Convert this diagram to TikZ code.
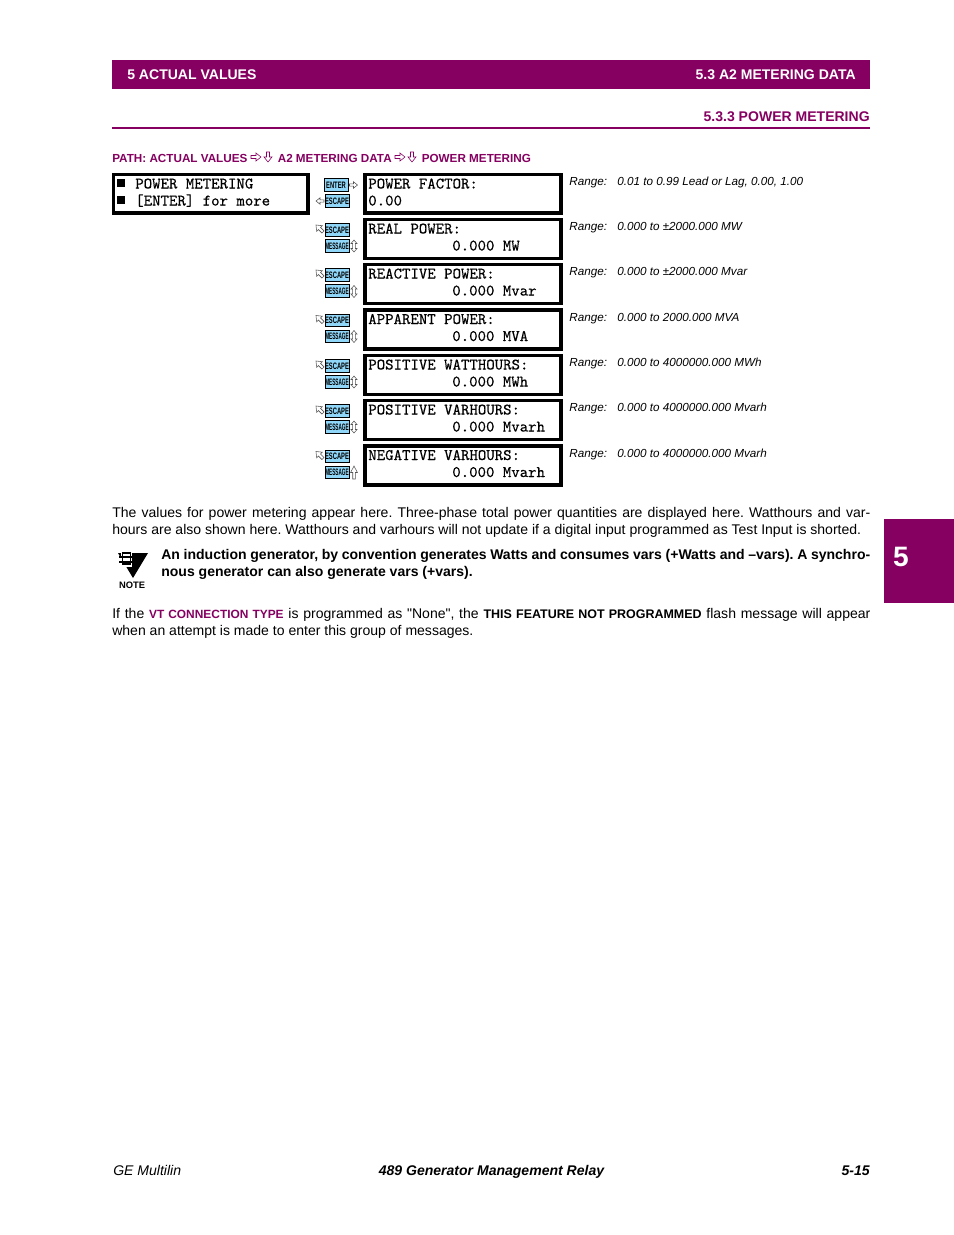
\documentclass[tikz,border=0pt]{standalone}
\usepackage{fontspec,graphicx}
\setmainfont{Liberation Sans}
\newfontfamily\lcdfont[FakeBold=0.5]{Latin Modern Mono}
\font\straightfont="Liberation Sans" at 9pt
\definecolor{gepurple}{HTML}{850060}
\definecolor{keyblue}{HTML}{8FD6F8}
\definecolor{arrowgray}{HTML}{555555}
\newcommand{\keytext}[2]{\scalebox{#1}[1]{\fontsize{6}{6}\selectfont\bfseries #2}}
\tikzset{
  txt/.style={inner sep=0pt,anchor=base west,font=\fontsize{9}{11}\selectfont},
  para/.style={inner sep=0pt,anchor=north west,align=justify,font=\fontsize{9}{11}\selectfont\frenchspacing},
  pathtxt/.style={inner sep=0pt,anchor=base west,text=gepurple,font=\fontsize{7.5}{9}\selectfont\bfseries},
  rangetxt/.style={inner sep=0pt,anchor=base west,font=\fontsize{7.5}{9}\selectfont\itshape},
  lcdtxt/.style={inner sep=0pt,anchor=base west,font=\fontsize{10.3}{11}\lcdfont},
  keybox/.style={draw,fill=keyblue,line width=.5pt,inner sep=0pt,minimum width=15.5pt,minimum height=8pt},
  pics/hollowarrow/.style={code={\draw[line width=.35pt,fill=white](-5,-1.5)--(0,-1.5)--(0,-4)--(5,0)--(0,4)--(0,1.5)--(-5,1.5)--cycle;}},
  pics/hollowdouble/.style={code={\draw[line width=.35pt,fill=white](0,-6)--(3,-2.5)--(1.3,-2.5)--(1.3,2.5)--(3,2.5)--(0,6)--(-3,2.5)--(-1.3,2.5)--(-1.3,-2.5)--(-3,-2.5)--cycle;}}
}
\begin{document}
\begin{tikzpicture}[x=.6415pt,y=-.6415pt]
\useasboundingbox (0,0) rectangle (954,1235);
\fill[gepurple](112,60) rectangle (870,89);
\node[txt,text=white,font=\fontsize{9}{11}\selectfont\bfseries] (chapter) at(127,79){5 ACTUAL VALUES};
\node[txt,anchor=base east,text=white,font=\fontsize{9}{11}\selectfont\bfseries] (section) at(856,79){5.3 A2 METERING DATA};
\node[txt,anchor=base east,text=gepurple,font=\fontsize{9}{11}\selectfont\bfseries] (subsection) at(870,121){5.3.3 POWER METERING};
\draw[gepurple,line width=1pt](112,128)--(870,128);
\node[pathtxt] (path1) at(112,162){PATH: ACTUAL VALUES};
\pic[gepurple] at(256,157){hollowarrow};\pic[gepurple,rotate=-90] at(268,157){hollowarrow};
\node[pathtxt] (path2) at(277.5,162){A2 METERING DATA};
\pic[gepurple] at(400,157){hollowarrow};\pic[gepurple,rotate=-90] at(412,157){hollowarrow};
\node[pathtxt] (path3) at(421.5,162){POWER METERING};
% message boxes
\draw[line width=2pt](113.5,174.5) rectangle (308,213);
\fill(117,179) rectangle (125,187);\fill(117,196) rectangle (125,204);
\node[lcdtxt] (head1) at(135,188.5){POWER METERING};
\node[lcdtxt] (head2) at(135,205.5){[ENTER] for more};
\draw[line width=2pt](365,174.5) rectangle (561,213);
\node[lcdtxt] (pf1) at(368,188.5){POWER FACTOR:};
\node[lcdtxt] (pf2) at(368,205.5){0.00};
\node[rangetxt] (pfrange) at(569,185.5){Range:};
\node[rangetxt] (pfval) at(617,185.5){0.01 to 0.99 Lead or Lag, 0.00, 1.00};
\node[keybox] (enter) at(336,185){\keytext{.62}{ENTER}};
\node[keybox] (escape) at(337,201){\keytext{.62}{ESCAPE}};
\pic[arrowgray,scale=.8] at(353.5,185){hollowarrow};\pic[arrowgray,scale=.8,rotate=180] at(320,201){hollowarrow};
\foreach \i/\rowy/\title/\val/\rng in {1/219.5/REAL POWER:/0.000 MW/0.000 to ±2000.000 MW,
  2/264.5/REACTIVE POWER:/0.000 Mvar/0.000 to ±2000.000 Mvar,
  3/310/APPARENT POWER:/0.000 MVA/0.000 to 2000.000 MVA,
  4/355.5/POSITIVE WATTHOURS:/0.000 MWh/0.000 to 4000000.000 MWh,
  5/400.5/POSITIVE VARHOURS:/0.000 Mvarh/0.000 to 4000000.000 Mvarh,
  6/446/NEGATIVE VARHOURS:/0.000 Mvarh/0.000 to 4000000.000 Mvarh}{
\draw[line width=2pt](365,\rowy) rectangle ({561},{\rowy+39});
\node[lcdtxt] (title\i) at(368,\rowy+14){\title};
\node[lcdtxt] (val\i) at(452,\rowy+31){\val};
\node[rangetxt] (rangelab\i) at(569,\rowy+11){Range:};
\node[rangetxt] (rangeval\i) at(617,\rowy+11){\rng};
\node[keybox] (esc\i) at(337,\rowy+10.5){\keytext{.62}{ESCAPE}};
\node[keybox] (msg\i) at(337,\rowy+26.5){\keytext{.5}{MESSAGE}};
\pic[arrowgray,rotate=135] at(319.5,\rowy+9){hollowarrow};
}
\foreach \rowy in {246,291.5,336.5,382,427}{\pic[arrowgray] at(354,\rowy){hollowdouble};}
\pic[arrowgray,rotate=90,xscale=1.3,yscale=.85] at(354,472.5){hollowarrow};
% text
\node[para,text width=486.3pt] (body1) at(112,507){The values for power metering appear here. Three-phase total power quantities are displayed here. Watthours and var-\linebreak hours are also shown here. Watthours and varhours will not update if a digital input programmed as Test Input is shorted.\hfill\null};
\fill(118,553)--(148,553)--(133,578)--cycle;
\fill[white](121,551) rectangle (132,567);
\draw[line width=.9pt,fill=white](122.5,553) rectangle (130.5,564);
\draw[line width=1.2pt](119,557)--(134,557);\draw[line width=1.2pt](119,562)--(134,562);
\node[txt,anchor=base,font=\fontsize{6}{7}\selectfont\bfseries] (note) at(132,588){NOTE};
\node[para,text width=454.8pt,font=\fontsize{9}{11}\selectfont\bfseries\frenchspacing] (body2) at(161,549){An induction generator, by convention generates Watts and consumes vars (+Watts and –vars). A synchro-\linebreak nous generator can also generate vars (+vars).\hfill\null};
\node[para,text width=486.3pt] (body3) at(112,608){If the {\fontsize{7.65}{9}\selectfont\bfseries\textcolor{gepurple}{VT CONNECTION TYPE}} is programmed as {\straightfont"}None{\straightfont"}, the {\fontsize{8}{9}\selectfont\bfseries THIS FEATURE NOT PROGRAMMED} flash message will appear\linebreak when an attempt is made to enter this group of messages.\hfill\null};
\fill[gepurple](884,519) rectangle (954,603);
\node[txt,anchor=base,text=white,font=\fontsize{18}{18}\selectfont\bfseries] (tab) at(901,566){5};
\node[txt,font=\fontsize{9}{11}\selectfont\itshape] (foot1) at(113,1175){GE Multilin};
\node[txt,anchor=base,font=\fontsize{9}{11}\selectfont\bfseries\itshape] (foot2) at(491.5,1175){489 Generator Management Relay};
\node[txt,anchor=base east,font=\fontsize{9}{11}\selectfont\bfseries\itshape] (foot3) at(870,1175){5-15};
\end{tikzpicture}
\end{document}
